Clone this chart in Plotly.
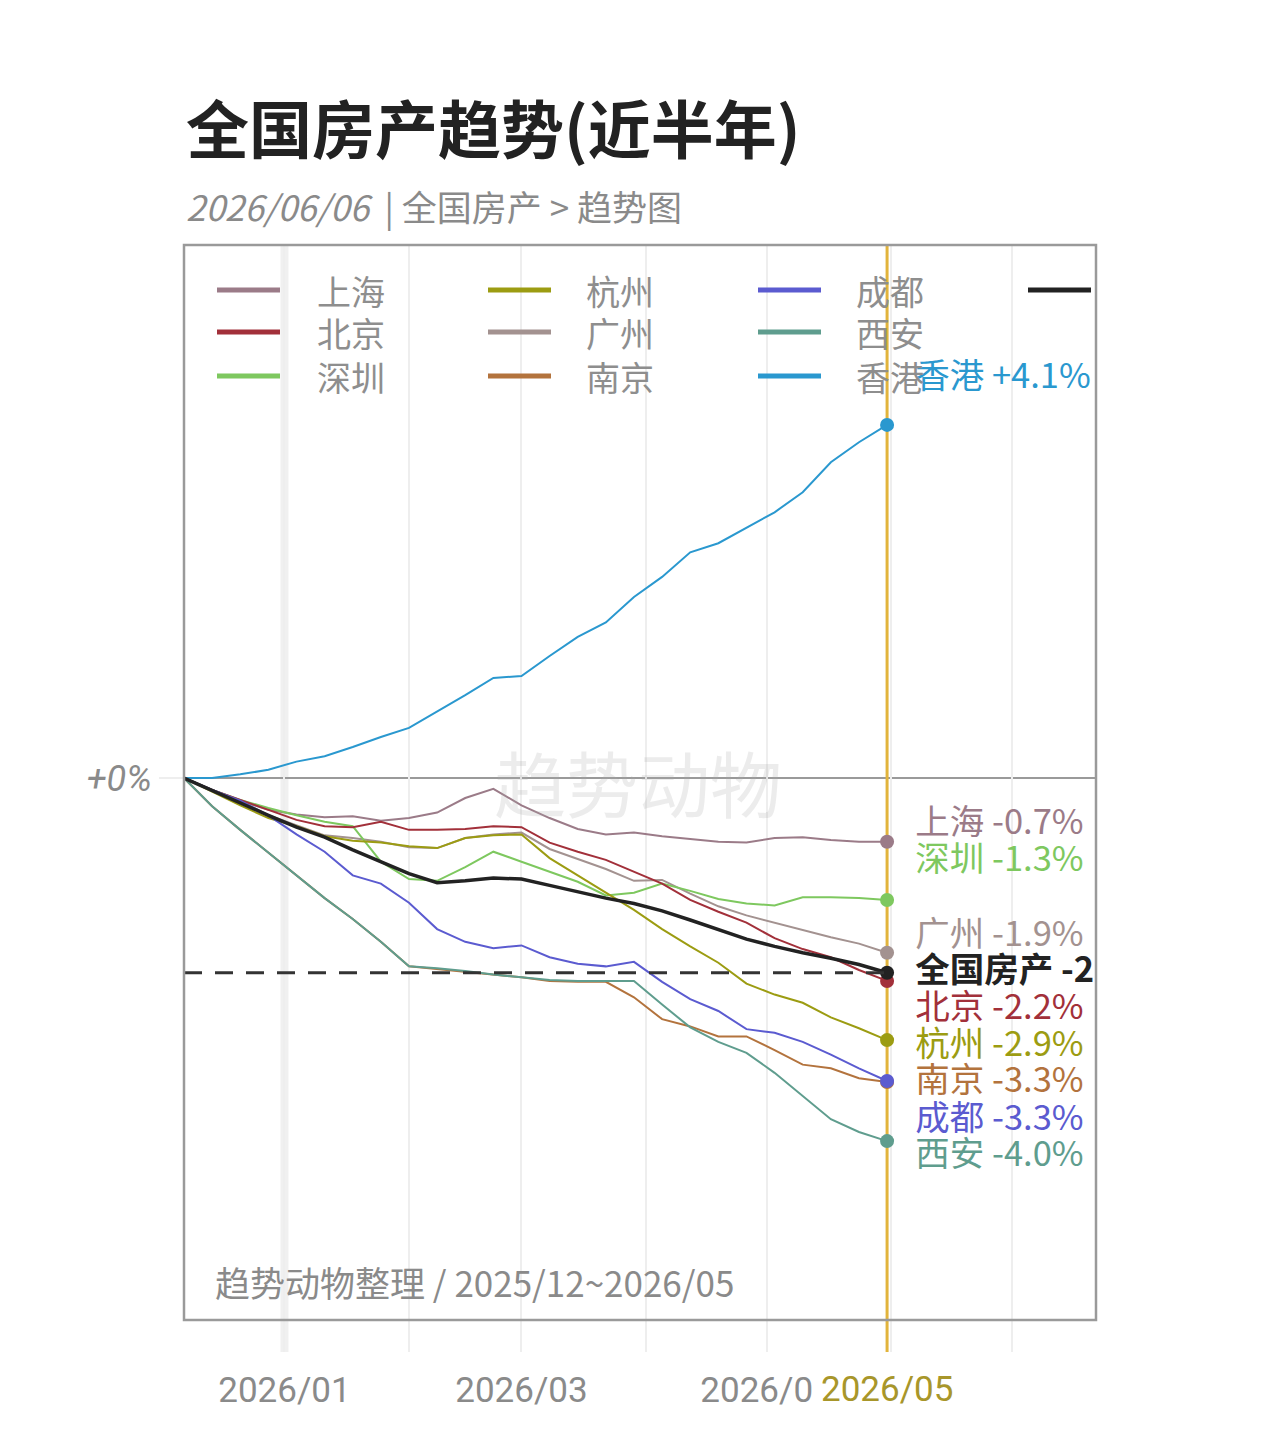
import plotly.graph_objects as go

# ---------------- data ----------------
dates = ["2025-12-07", "2025-12-14", "2025-12-21", "2025-12-28", "2026-01-04", "2026-01-11",
         "2026-01-18", "2026-01-25", "2026-02-01", "2026-02-08", "2026-02-15", "2026-02-22",
         "2026-03-01", "2026-03-08", "2026-03-15", "2026-03-22", "2026-03-29", "2026-04-05",
         "2026-04-12", "2026-04-19", "2026-04-26", "2026-05-03", "2026-05-10", "2026-05-17",
         "2026-05-24", "2026-05-31"]

shanghai = [0, -0.13, -0.25, -0.35, -0.40, -0.43, -0.42, -0.47, -0.44, -0.38, -0.22, -0.12, -0.30,
            -0.44, -0.56, -0.62, -0.60, -0.64, -0.67, -0.70, -0.71, -0.66, -0.65, -0.68, -0.70, -0.70]
beijing = [0, -0.13, -0.24, -0.35, -0.46, -0.53, -0.54, -0.48, -0.57, -0.57, -0.56, -0.53, -0.54,
           -0.71, -0.81, -0.90, -1.03, -1.16, -1.34, -1.47, -1.59, -1.76, -1.88, -1.97, -2.11, -2.23]
shenzhen = [0, -0.13, -0.24, -0.33, -0.41, -0.48, -0.53, -0.92, -1.11, -1.13, -0.98, -0.81, -0.92,
            -1.03, -1.14, -1.29, -1.26, -1.16, -1.24, -1.33, -1.38, -1.40, -1.31, -1.31, -1.32, -1.34]
hangzhou = [0, -0.15, -0.30, -0.44, -0.53, -0.64, -0.69, -0.71, -0.75, -0.77, -0.66, -0.63, -0.62,
            -0.88, -1.07, -1.26, -1.45, -1.66, -1.85, -2.03, -2.26, -2.38, -2.47, -2.63, -2.75, -2.88]
guangzhou = [0, -0.13, -0.26, -0.41, -0.52, -0.63, -0.66, -0.70, -0.76, -0.77, -0.66, -0.62, -0.60,
             -0.78, -0.89, -1.00, -1.13, -1.12, -1.27, -1.41, -1.51, -1.59, -1.67, -1.75, -1.82, -1.92]
nanjing = [0, -0.31, -0.57, -0.82, -1.08, -1.32, -1.55, -1.80, -2.07, -2.10, -2.13, -2.16, -2.19,
           -2.23, -2.24, -2.24, -2.41, -2.65, -2.73, -2.84, -2.84, -2.99, -3.15, -3.19, -3.30, -3.34]
chengdu = [0, -0.13, -0.25, -0.41, -0.62, -0.81, -1.07, -1.16, -1.37, -1.66, -1.80, -1.87, -1.84,
           -1.97, -2.04, -2.07, -2.02, -2.24, -2.43, -2.56, -2.76, -2.80, -2.90, -3.04, -3.19, -3.33]
xian = [0, -0.31, -0.57, -0.82, -1.08, -1.32, -1.55, -1.80, -2.07, -2.09, -2.12, -2.16, -2.19,
        -2.22, -2.23, -2.23, -2.23, -2.49, -2.74, -2.90, -3.02, -3.24, -3.49, -3.75, -3.89, -3.99]
hongkong = [0, 0, 0.04, 0.09, 0.18, 0.24, 0.34, 0.45, 0.55, 0.73, 0.91, 1.10, 1.12, 1.34, 1.55,
            1.71, 1.99, 2.21, 2.48, 2.58, 2.75, 2.92, 3.14, 3.47, 3.69, 3.88]
national = [0, -0.14, -0.27, -0.41, -0.54, -0.65, -0.79, -0.92, -1.05, -1.15, -1.13, -1.10, -1.11,
            -1.18, -1.25, -1.32, -1.38, -1.46, -1.56, -1.67, -1.77, -1.85, -1.92, -1.98, -2.05, -2.14]

names = ["上海", "北京", "深圳", "杭州", "广州", "南京", "成都", "西安", "香港", "全国房产"]
series = [shanghai, beijing, shenzhen, hangzhou, guangzhou, nanjing, chengdu, xian, hongkong, national]
end_pct = ["-0.7%", "-2.2%", "-1.3%", "-2.9%", "-1.9%", "-3.3%", "-3.3%", "-4.0%", "+4.1%", "-2.1%"]

month_ticks = ["2026-01-01", "2026-02-01", "2026-03-01", "2026-04-01", "2026-05-01", "2026-06-01", "2026-07-01"]
month_text = ["2026/01", "", "2026/03", "", "2026/05", "", ""]

# ---------------- styles ----------------
colors = ["#9b7b88", "#a2303a", "#7ec85f", "#9c9c12", "#a39290", "#b3733d", "#5b5bd0", "#5f9d8e",
          "#2a98cf", "#222222"]
CJK = "Noto Sans CJK SC"

W, H = 1280, 1443
L, R, T, B = 184, 1096, 245, 1352     # plot area in pixels
ZERO_PX = 778
PX_PER_PCT = 91.0
y_top = (ZERO_PX - T) / PX_PER_PCT
y_bot = -(B - ZERO_PX) / PX_PER_PCT


def pxx(p):
    return (p - L) / (R - L)


def pxy(p):
    return (B - p) / (B - T)


def py2val(p):
    return (ZERO_PX - p) / PX_PER_PCT


fig = go.Figure()

order = [4, 0, 2, 3, 1, 5, 7, 6, 8, 9]
for i in order:
    fig.add_trace(go.Scatter(
        x=dates, y=series[i], mode="lines", name=names[i], showlegend=False,
        line=dict(color=colors[i], width=3.5 if i == 9 else 2), hoverinfo="skip"))

for i in order:
    fig.add_trace(go.Scatter(
        x=[dates[-1]], y=[series[i][-1]], mode="markers", showlegend=False,
        marker=dict(color=colors[i], size=14), hoverinfo="skip", cliponaxis=False))

# end labels (clipped by plot area like in the reference)
label_px_y = {"上海": 825, "深圳": 862, "广州": 937, "全国房产": 973, "北京": 1010,
              "杭州": 1047, "南京": 1083, "成都": 1121, "西安": 1157, "香港": 379}
lab_x = "2026-06-07"
for i, n in enumerate(names):
    txt = f"{n} {end_pct[i]}"
    if n == "全国房产":
        txt = f"<b>{txt}</b>"
    fig.add_trace(go.Scatter(
        x=[lab_x], y=[py2val(label_px_y[n])], mode="text", text=[txt],
        textposition="middle right", showlegend=False, cliponaxis=True, hoverinfo="skip",
        textfont=dict(family=CJK, size=34.5, color=colors[i])))

shapes = []
shapes.append(dict(type="line", xref="x", yref="paper", x0="2026-01-01", x1="2026-01-01",
                   y0=0, y1=1, line=dict(color="#f0f0f0", width=8), layer="below"))
shapes.append(dict(type="line", xref="paper", yref="y", x0=0, x1=1, y0=0, y1=0,
                   line=dict(color="#9a9a9a", width=2), layer="between"))
shapes.append(dict(type="line", xref="x", yref="paper", x0=dates[-1], x1=dates[-1], y0=0, y1=1,
                   line=dict(color="#e2b43c", width=3), layer="between"))
shapes.append(dict(type="line", xref="x", yref="y", x0=dates[0], x1=dates[-1],
                   y0=national[-1], y1=national[-1],
                   line=dict(color="#333333", width=3, dash="18px,13px"), layer="above"))
shapes.append(dict(type="rect", xref="paper", yref="paper", x0=0, x1=1, y0=pxy(1320), y1=1,
                   line=dict(color="#9a9a9a", width=2.5), layer="above"))

annotations = []
leg_cols_line = [217, 488, 758, 1028]
leg_cols_text = [315, 584, 854]
leg_rows = [290, 332, 376]
for k, i in enumerate(range(len(names))):
    c, r = divmod(k, 3)
    y = leg_rows[r]
    shapes.append(dict(type="line", xref="paper", yref="paper",
                       x0=pxx(leg_cols_line[c]), x1=pxx(min(leg_cols_line[c] + 63, 1092)),
                       y0=pxy(y), y1=pxy(y), line=dict(color=colors[i], width=5), layer="above"))
    if c < 3:
        annotations.append(dict(xref="paper", yref="paper", x=pxx(leg_cols_text[c]), y=pxy(y),
                                text=names[i], showarrow=False, xanchor="left", yanchor="middle",
                                font=dict(family=CJK, size=34, color="#8e8e8e")))

annotations.append(dict(xref="paper", yref="paper", x=pxx(184), y=pxy(125), text="<b>全国房产趋势(近半年)</b>",
                        showarrow=False, xanchor="left", yanchor="middle",
                        font=dict(family=CJK, size=63, color="#222222")))
annotations.append(dict(xref="paper", yref="paper", x=pxx(184), y=pxy(206),
                        text="<i>2026/06/06</i>&#160;&#160;|&#160;全国房产&#160;&gt;&#160;趋势图",
                        showarrow=False, xanchor="left", yanchor="middle",
                        font=dict(family=CJK, size=35, color="#8a8a8a")))
annotations.append(dict(xref="paper", yref="paper", x=pxx(638), y=pxy(780), text="趋势动物",
                        showarrow=False, xanchor="center", yanchor="middle",
                        font=dict(family=CJK, size=72, color="rgba(170,170,170,0.22)")))
annotations.append(dict(xref="paper", yref="paper", x=pxx(213), y=pxy(1281),
                        text="趋势动物整理 / 2025/12~2026/05", showarrow=False,
                        xanchor="left", yanchor="middle",
                        font=dict(family=CJK, size=35, color="#8a8a8a")))
annotations.append(dict(xref="x", yref="paper", x=dates[-1], y=pxy(1389), text="2026/05",
                        showarrow=False, xanchor="center", yanchor="middle", bgcolor="white",
                        borderpad=6,
                        font=dict(family="Roboto", size=35, color="#a8962a")))

fig.update_layout(
    width=W, height=H,
    margin=dict(l=L, r=W - R, t=T, b=H - B, pad=0),
    paper_bgcolor="white", plot_bgcolor="white",
    font=dict(family=CJK),
    shapes=shapes, annotations=annotations,
    xaxis=dict(type="date", range=["2025-12-07", "2026-07-22"], tickvals=month_ticks,
               ticktext=month_text, showgrid=True, gridcolor="#eeeeee", gridwidth=1.5,
               zeroline=False, showline=False, ticks="", ticklabelstandoff=14,
               tickfont=dict(family="Roboto", size=35, color="#8a8a8a")),
    yaxis=dict(range=[y_bot, y_top], tickvals=[0], ticktext=["+0%"], showgrid=False,
               zeroline=False, showline=False, ticks="outside", ticklen=24, tickcolor="#eeeeee",
               tickwidth=2, tickfont=dict(family="Roboto", size=36, color="#8a8a8a", style="italic")),
)

fig.write_html("out.html")
